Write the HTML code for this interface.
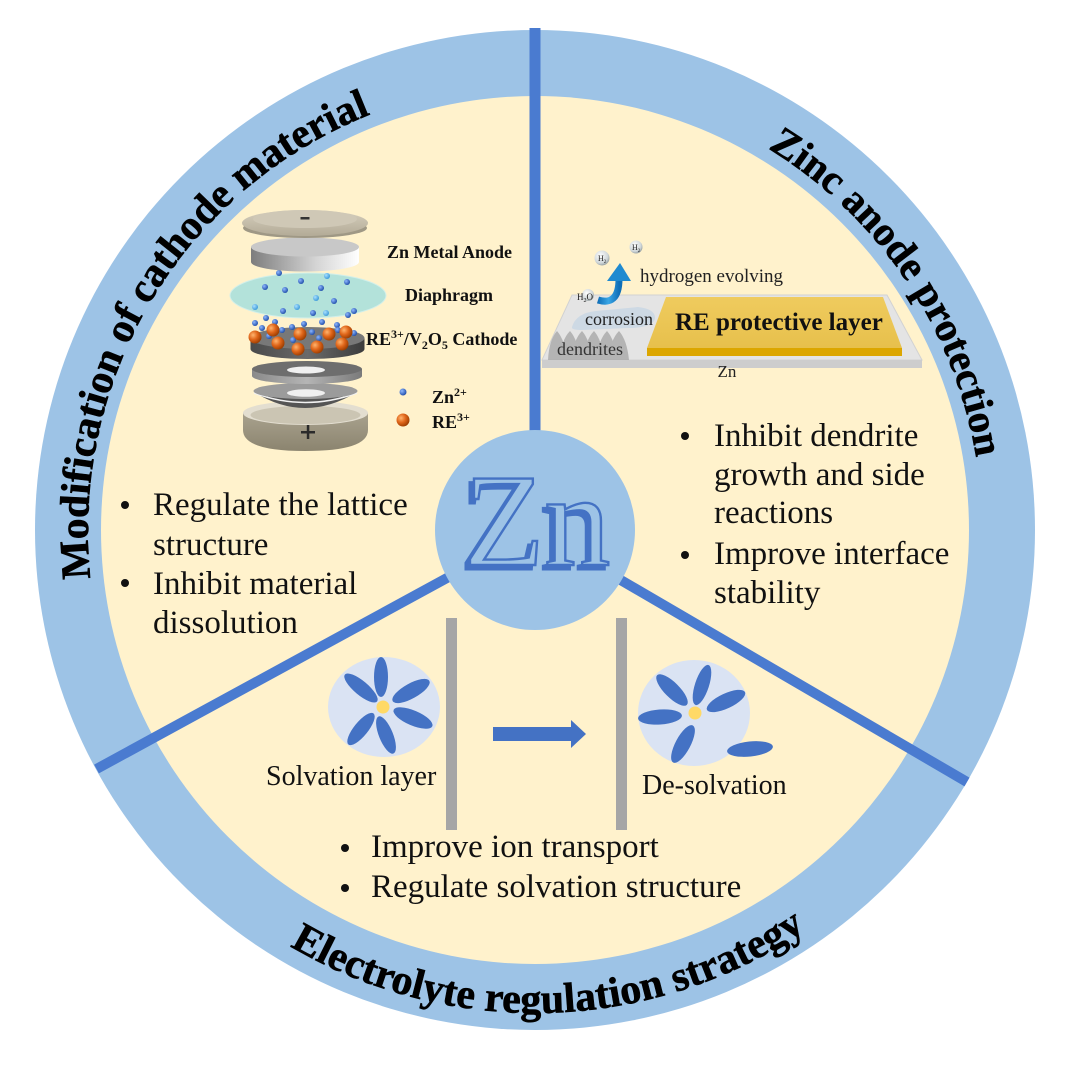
<!DOCTYPE html>
<html><head><meta charset="utf-8"><style>
html,body{margin:0;padding:0;background:#fff;}
svg{display:block;}
text{font-family:"Liberation Serif","DejaVu Serif",serif;}
</style></head><body>
<svg width="1080" height="1075" viewBox="0 0 1080 1075" xmlns="http://www.w3.org/2000/svg">
<defs>
  <path id="pMod" d="M 90.6,578.3 A 447 447 0 0 1 758.5,142.9"/>
  <path id="pZinc" d="M 767.9,148.4 A 447 447 0 0 1 955.0,682.9"/>
  <path id="pElec" d="M 289.9,946.2 A 483 483 0 0 0 905,840.5"/>
  <linearGradient id="capTop" x1="0" y1="0" x2="0" y2="1">
    <stop offset="0" stop-color="#d6cfbd"/><stop offset="1" stop-color="#b3ab97"/>
  </linearGradient>
  <linearGradient id="diskSide" x1="0" y1="0" x2="1" y2="0">
    <stop offset="0" stop-color="#7d7d7d"/><stop offset="0.6" stop-color="#d4d4d4"/><stop offset="1" stop-color="#ffffff"/>
  </linearGradient>
  <linearGradient id="darkSide" x1="0" y1="0" x2="1" y2="0">
    <stop offset="0" stop-color="#4a4a4a"/><stop offset="0.5" stop-color="#6a6a6a"/><stop offset="1" stop-color="#3c3c3c"/>
  </linearGradient>
  <linearGradient id="midSide" x1="0" y1="0" x2="1" y2="0">
    <stop offset="0" stop-color="#8a8a8a"/><stop offset="0.5" stop-color="#b5b5b5"/><stop offset="1" stop-color="#7a7a7a"/>
  </linearGradient>
  <linearGradient id="cupGrad" x1="0" y1="0" x2="0" y2="1">
    <stop offset="0" stop-color="#a9a28e"/><stop offset="1" stop-color="#8b846f"/>
  </linearGradient>
  <radialGradient id="orb" cx="0.35" cy="0.35" r="0.7">
    <stop offset="0" stop-color="#ffb46e"/><stop offset="0.5" stop-color="#e0661a"/><stop offset="1" stop-color="#9a3c00"/>
  </radialGradient>
  <radialGradient id="bdot" cx="0.35" cy="0.35" r="0.7">
    <stop offset="0" stop-color="#8fb8ff"/><stop offset="1" stop-color="#1d4ba8"/>
  </radialGradient>
  <radialGradient id="ldot" cx="0.35" cy="0.35" r="0.7">
    <stop offset="0" stop-color="#a8e0ff"/><stop offset="1" stop-color="#3a98d8"/>
  </radialGradient>
  <radialGradient id="hball" cx="0.4" cy="0.35" r="0.7">
    <stop offset="0" stop-color="#ffffff"/><stop offset="0.7" stop-color="#cfd6d8"/><stop offset="1" stop-color="#8c9698"/>
  </radialGradient>
  <linearGradient id="goldTop" x1="0" y1="0" x2="0" y2="1">
    <stop offset="0" stop-color="#efcb5e"/><stop offset="1" stop-color="#e7c04c"/>
  </linearGradient>
  <linearGradient id="arrowG" x1="0" y1="0" x2="1" y2="0">
    <stop offset="0" stop-color="#0f6fb8"/><stop offset="0.5" stop-color="#39a6e6"/><stop offset="1" stop-color="#0f6fb8"/>
  </linearGradient>
</defs>

<!-- ring + cream -->
<circle cx="535" cy="530" r="500" fill="#9DC3E6"/>
<circle cx="535" cy="530" r="434" fill="#FFF2CC"/>

<!-- dividers -->
<rect x="529.5" y="28" width="11" height="410" fill="#4A7BD0"/>
<line x1="535" y1="530" x2="96.5" y2="769" stroke="#4A7BD0" stroke-width="10"/>
<line x1="535" y1="530" x2="967" y2="782" stroke="#4A7BD0" stroke-width="10"/>

<!-- center Zn circle -->
<circle cx="535" cy="530" r="100" fill="#9DC3E6"/>
<text x="533" y="569" font-size="132" text-anchor="middle" fill="#4472C4" stroke="#4472C4" stroke-width="3">Zn</text>
<text x="537" y="565" font-size="132" text-anchor="middle" fill="#9DC3E6" stroke="#4472C4" stroke-width="2.4">Zn</text>

<!-- curved titles -->
<text font-size="41.5" font-weight="bold" fill="#000" stroke="#000" stroke-width="0.6"><textPath href="#pMod">Modification of cathode material</textPath></text>
<text font-size="41" font-weight="bold" fill="#000" stroke="#000" stroke-width="0.6"><textPath href="#pZinc">Zinc anode protection</textPath></text>
<text font-size="42" font-weight="bold" fill="#000" stroke="#000" stroke-width="0.6"><textPath href="#pElec">Electrolyte regulation strategy</textPath></text>

<!-- ===== Battery ===== -->
<path d="M243,413 L243,430 Q243,451 305,451 Q368,451 368,430 L368,413 Z" fill="url(#cupGrad)"/>
<ellipse cx="305.5" cy="413" rx="62.5" ry="12" fill="#e3ded0"/>
<ellipse cx="305.5" cy="415" rx="55" ry="9" fill="#cbc5b3"/>
<rect x="301" y="431" width="14" height="2.5" fill="#2a2a2a"/>
<rect x="306.8" y="425" width="2.5" height="14" fill="#2a2a2a"/>
<path d="M254,392 Q305,424 357,392 Z" fill="#555"/>
<path d="M254,393 Q305,412 357,393" fill="none" stroke="#f2f2f2" stroke-width="1.5"/>
<ellipse cx="305.5" cy="391" rx="52" ry="8" fill="#9b9b9b"/>
<ellipse cx="306" cy="393" rx="19" ry="3.8" fill="#f0f0f0"/>
<path d="M252,369 L252,376 A55 8 0 0 0 362,376 L362,369 Z" fill="url(#midSide)"/>
<ellipse cx="307" cy="369" rx="55" ry="8" fill="#6e6e6e"/>
<ellipse cx="306" cy="370" rx="19" ry="3.5" fill="#f0f0f0"/>
<path d="M250.5,338 L250.5,349 A57 10 0 0 0 364.5,349 L364.5,338 Z" fill="url(#darkSide)"/>
<ellipse cx="307.5" cy="338" rx="57" ry="11" fill="#787878"/>
<g fill="url(#bdot)">
  <circle cx="255" cy="323" r="3"/><circle cx="262" cy="328" r="3"/><circle cx="269" cy="336" r="3"/>
  <circle cx="282" cy="330" r="3"/><circle cx="292" cy="327" r="3"/><circle cx="304" cy="324" r="3"/>
  <circle cx="312" cy="332" r="3"/><circle cx="319" cy="338" r="3"/><circle cx="337" cy="325" r="3"/>
  <circle cx="338" cy="330" r="3"/><circle cx="354" cy="333" r="3"/><circle cx="293" cy="340" r="3"/>
  <circle cx="275" cy="322" r="3"/><circle cx="322" cy="322" r="3"/>
</g>
<g fill="url(#orb)">
  <circle cx="255" cy="337" r="6.5"/><circle cx="273" cy="330" r="6.5"/><circle cx="278" cy="343" r="6.5"/>
  <circle cx="300" cy="334" r="6.5"/><circle cx="298" cy="349" r="6.5"/><circle cx="317" cy="347" r="6.5"/>
  <circle cx="329" cy="334" r="6.5"/><circle cx="346" cy="332" r="6.5"/><circle cx="342" cy="344" r="6.5"/>
</g>
<ellipse cx="308" cy="295.5" rx="78" ry="22.5" fill="#b3e2da" stroke="#d2efea" stroke-width="1"/>
<g fill="url(#bdot)">
  <circle cx="279" cy="273" r="3"/><circle cx="301" cy="281" r="3"/><circle cx="347" cy="282" r="3"/>
  <circle cx="265" cy="287" r="3"/><circle cx="285" cy="290" r="3"/><circle cx="321" cy="288" r="3"/>
  <circle cx="334" cy="301" r="3"/><circle cx="283" cy="311" r="3"/><circle cx="313" cy="313" r="3"/>
  <circle cx="348" cy="315" r="3"/><circle cx="354" cy="311" r="3"/><circle cx="266" cy="318" r="3"/>
</g>
<g fill="url(#ldot)">
  <circle cx="327" cy="276" r="3"/><circle cx="316" cy="298" r="3"/><circle cx="255" cy="307" r="3"/>
  <circle cx="297" cy="307" r="3"/><circle cx="326" cy="313" r="3"/>
</g>
<path d="M251,247 L251,262 A54 9.5 0 0 0 359,262 L359,247 Z" fill="url(#diskSide)"/>
<ellipse cx="305" cy="247" rx="54" ry="9.5" fill="#c8c8c8"/>
<ellipse cx="305" cy="228" rx="62" ry="10" fill="#9f9885"/>
<ellipse cx="305" cy="223" rx="63" ry="13" fill="url(#capTop)"/>
<ellipse cx="305" cy="219" rx="52" ry="9" fill="#cfc8b6"/>
<rect x="300.5" y="217" width="9" height="2.5" fill="#333"/>

<g font-weight="bold" font-size="18" fill="#111">
  <text x="387" y="258">Zn Metal Anode</text>
  <text x="405" y="301">Diaphragm</text>
  <text x="366" y="345">RE<tspan font-size="12" dy="-7">3+</tspan><tspan dy="7">/V</tspan><tspan font-size="12" dy="4">2</tspan><tspan dy="-4">O</tspan><tspan font-size="12" dy="4">5</tspan><tspan dy="-4"> Cathode</tspan></text>
  <text x="432" y="403">Zn<tspan font-size="12" dy="-7">2+</tspan></text>
  <text x="432" y="428">RE<tspan font-size="12" dy="-7">3+</tspan></text>
</g>
<circle cx="403" cy="392" r="3.5" fill="url(#bdot)"/>
<circle cx="403" cy="420" r="6.5" fill="url(#orb)"/>

<!-- ===== Zinc anode figure ===== -->
<polygon points="572,295 887,295 922,360 542,360" fill="#e4e4e4" stroke="#d2d2d2" stroke-width="1"/>
<rect x="542" y="360" width="380" height="8" fill="#cdcdcd"/>
<text x="727" y="377" font-size="17" text-anchor="middle" fill="#222">Zn</text>
<polygon points="666,297 883,297 902,348 647,348" fill="url(#goldTop)"/>
<rect x="647" y="348" width="255" height="8" fill="#dca600"/>
<text x="675" y="330" font-size="25" font-weight="bold" fill="#111">RE protective layer</text>
<g fill="#acacac" opacity="0.85">
  <path d="M548,360 Q549,340 557,331 Q565,340 567,360 Z"/>
  <path d="M560,360 Q561,340 570,331 Q578,340 580,360 Z"/>
  <path d="M572,360 Q573,340 582,331 Q590,340 592,360 Z"/>
  <path d="M584,360 Q585,340 594,331 Q602,340 604,360 Z"/>
  <path d="M597,360 Q598,340 607,331 Q615,340 617,360 Z"/>
  <path d="M609,360 Q610,340 619,331 Q627,340 629,360 Z"/>
</g>
<text x="557" y="355" font-size="18" fill="#333">dendrites</text>
<path d="M572,327 Q576,313 596,311 L638,307 Q656,309 655,319 Q652,328 628,328 L582,330 Q571,330 572,327 Z" fill="#cdd9e4"/>
<text x="585" y="325" font-size="18" fill="#222">corrosion</text>
<path d="M598,300 C611,304 619,298 619,279" fill="none" stroke="url(#arrowG)" stroke-width="7"/>
<polygon points="607,281 620,263 631,281" fill="#1f8ad0"/>
<circle cx="588" cy="295" r="6" fill="url(#hball)"/>
<text x="577" y="300" font-size="9" fill="#222">H<tspan font-size="6" dy="2">2</tspan><tspan dy="-2">O</tspan></text>
<circle cx="602" cy="258" r="7.5" fill="url(#hball)"/>
<text x="598" y="261" font-size="8" fill="#222">H<tspan font-size="5" dy="2">2</tspan></text>
<circle cx="636" cy="247" r="6.5" fill="url(#hball)"/>
<text x="632" y="250" font-size="8" fill="#222">H<tspan font-size="5" dy="2">2</tspan></text>
<text x="640" y="282" font-size="19" fill="#222">hydrogen evolving</text>

<!-- ===== Solvation ===== -->
<rect x="446" y="618" width="11" height="212" fill="#A6A6A6"/>
<rect x="616" y="618" width="11" height="212" fill="#A6A6A6"/>
<ellipse cx="384" cy="707" rx="56" ry="50" fill="#DAE3F3"/>
<g fill="#4472C4">
  <ellipse cx="381" cy="677" rx="7" ry="20"/>
  <ellipse cx="361" cy="688" rx="21" ry="7" transform="rotate(40 361 688)"/>
  <ellipse cx="411" cy="691" rx="21" ry="7.5" transform="rotate(-29 411 691)"/>
  <ellipse cx="413" cy="718" rx="21" ry="7.5" transform="rotate(23 413 718)"/>
  <ellipse cx="386" cy="735" rx="20" ry="7" transform="rotate(68 386 735)"/>
  <ellipse cx="361" cy="729" rx="20" ry="7" transform="rotate(-51 361 729)"/>
</g>
<circle cx="383" cy="707" r="6.5" fill="#FFD966"/>
<rect x="493" y="727" width="78" height="14" fill="#4472C4"/>
<polygon points="571,720 586,734 571,748" fill="#4472C4"/>
<ellipse cx="694" cy="713" rx="56" ry="53" fill="#DAE3F3"/>
<g fill="#4472C4">
  <ellipse cx="702" cy="685" rx="21" ry="7" transform="rotate(-72 702 685)"/>
  <ellipse cx="672" cy="690" rx="21" ry="7.5" transform="rotate(45 672 690)"/>
  <ellipse cx="726" cy="701" rx="21" ry="7.5" transform="rotate(-25 726 701)"/>
  <ellipse cx="660" cy="717" rx="22" ry="7.5" transform="rotate(-4 660 717)"/>
  <ellipse cx="683" cy="744" rx="21" ry="7.5" transform="rotate(-62 683 744)"/>
  <ellipse cx="750" cy="749" rx="23" ry="7.5" transform="rotate(-6 750 749)"/>
</g>
<circle cx="695" cy="713" r="6.5" fill="#FFD966"/>
<text x="266" y="785" font-size="28" fill="#111">Solvation layer</text>
<text x="642" y="794" font-size="28" fill="#111">De-solvation</text>

<!-- ===== Bullets ===== -->
<g font-size="33" fill="#111">
  <text x="153" y="515">Regulate the lattice</text>
  <text x="153" y="555">structure</text>
  <text x="153" y="594">Inhibit material</text>
  <text x="153" y="633">dissolution</text>
  <text x="714" y="446">Inhibit dendrite</text>
  <text x="714" y="485">growth and side</text>
  <text x="714" y="523">reactions</text>
  <text x="714" y="564">Improve interface</text>
  <text x="714" y="603">stability</text>
  <text x="371" y="857">Improve ion transport</text>
  <text x="371" y="897">Regulate solvation structure</text>
</g>
<g fill="#111">
  <circle cx="125" cy="505" r="4"/><circle cx="125" cy="583" r="4"/>
  <circle cx="685" cy="436" r="4"/><circle cx="685" cy="555" r="4"/>
  <circle cx="345" cy="848" r="4"/><circle cx="345" cy="888" r="4"/>
</g>
</svg>
</body></html>
